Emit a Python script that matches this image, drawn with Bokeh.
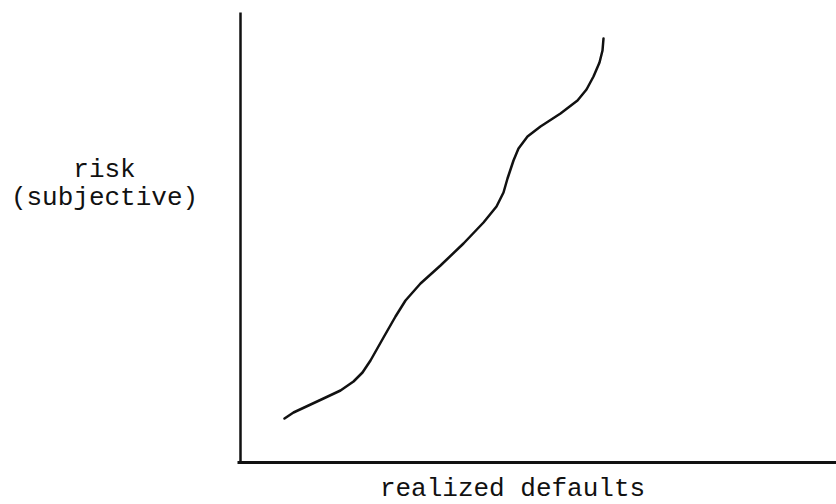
from bokeh.plotting import figure
from bokeh.models import Range1d
from bokeh.core.properties import value
from bokeh.embed import file_html
from bokeh.resources import INLINE

# Curve (arbitrary units: realized defaults vs subjective risk)
realized = [44, 53, 68, 83, 100, 113, 122, 130, 143, 155, 165, 180, 200, 223, 243, 256, 263, 267,
            273, 278, 287, 300, 320, 337, 346, 353, 359, 362, 363]
risk     = [44, 50, 57, 64, 72, 81, 90, 102, 125, 146, 162, 179, 197, 219, 240, 256, 270, 284,
            302, 314, 326, 336, 349, 362, 373, 386, 400, 412, 424]

x_label = "realized defaults"
y_label = ["risk", "(subjective)"]

FONT = value("'Courier New', 'Nimbus Mono PS', FreeMono, 'Liberation Mono', monospace")

W, H = 836, 504
p = figure(width=W, height=H, output_backend="svg", toolbar_location=None,
           x_range=Range1d(-240, -240 + W), y_range=Range1d(-42, -42 + H),
           min_border=0, min_border_left=0, min_border_right=0,
           min_border_top=0, min_border_bottom=0)
p.axis.visible = False
p.grid.visible = False
p.outline_line_color = None
p.background_fill_color = "white"
p.border_fill_color = "white"

# axes drawn as plain lines
p.line([0, 0], [0, 450], line_color="#111111", line_width=2.5)
p.line([-3, 600], [0, 0], line_color="#111111", line_width=3)

# curve
p.line(realized, risk, line_color="#111111", line_width=2.5, line_join="round", line_cap="round")

# labels
p.text(x=[272], y=[-26], text=[x_label], text_font=FONT, text_font_size="26px",
       text_align="center", text_baseline="alphabetic", text_color="#111111")
p.text(x=[-136, -136], y=[293, 265], text=y_label, text_font=FONT, text_font_size="26px",
       text_align="center", text_baseline="alphabetic", text_color="#111111")

open("out.html", "w").write(file_html(p, INLINE))
